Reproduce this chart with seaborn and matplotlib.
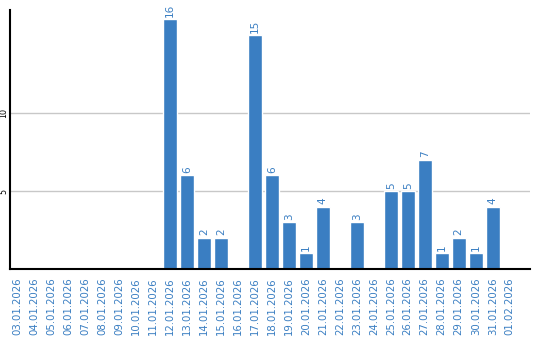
import matplotlib
matplotlib.use("Agg")
import matplotlib.pyplot as plt
import seaborn as sns
import pandas as pd

dates = ["03.01.2026", "04.01.2026", "05.01.2026", "06.01.2026", "07.01.2026",
         "08.01.2026", "09.01.2026", "10.01.2026", "11.01.2026", "12.01.2026",
         "13.01.2026", "14.01.2026", "15.01.2026", "16.01.2026", "17.01.2026",
         "18.01.2026", "19.01.2026", "20.01.2026", "21.01.2026", "22.01.2026",
         "23.01.2026", "24.01.2026", "25.01.2026", "26.01.2026", "27.01.2026",
         "28.01.2026", "29.01.2026", "30.01.2026", "31.01.2026", "01.02.2026"]
counts = [0, 0, 0, 0, 0, 0, 0, 0, 0, 16,
          6, 2, 2, 0, 15, 6, 3, 1, 4, 0,
          3, 0, 5, 5, 7, 1, 2, 1, 4, 0]
yticks = [5, 10]

sns.set_theme(style="white")
plt.rcParams['font.family'] = ['DejaVu Sans']

blue = "#3a7ec2"
df = pd.DataFrame({"date": dates, "count": counts})

fig = plt.figure(figsize=(5.4, 3.4), dpi=100)
ax = fig.add_axes([0.0185, 0.2088, 0.9625, 0.7618])
sns.barplot(data=df, x="date", y="count", color=blue, width=0.82,
            saturation=1, ax=ax, order=dates)

for i, v in enumerate(counts):
    if v > 0:
        ax.text(i, v + 0.15, str(v), rotation=90, ha="center", va="bottom",
                color=blue, fontsize=7.5)

ax.set_xlim(-0.41, 30.18)
ax.set_ylim(0, 16.6)
ax.set_yticks(yticks)
ax.set_yticklabels([str(t) for t in yticks], rotation=90, va="center",
                   fontsize=5.8, color="black")
ax.tick_params(axis="y", length=0, pad=1)
ax.tick_params(axis="x", length=0, pad=6)
ax.set_xticks(range(len(dates)))
ax.set_xticklabels(dates, rotation=90, fontsize=7.3, color=blue)
ax.set_xlabel("")
ax.set_ylabel("")
ax.grid(axis="y", color="#c8c8c8", linewidth=1)
ax.set_axisbelow(True)
for s in ["top", "right"]:
    ax.spines[s].set_visible(False)
for s in ["left", "bottom"]:
    ax.spines[s].set_color("black")
    ax.spines[s].set_linewidth(1.5)

fig.savefig("out.png", dpi=100)
